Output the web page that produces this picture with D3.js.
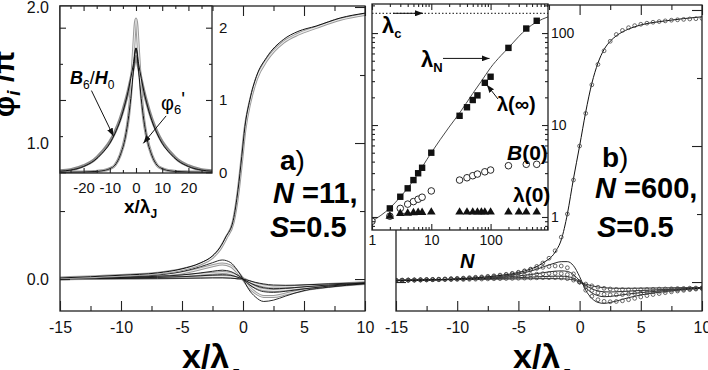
<!DOCTYPE html>
<meta charset="utf-8">
<style>
  body { margin: 0; background: #fff; }
  svg { display: block; font-family: "Liberation Sans", Arial, sans-serif; }
  .axis path { display: none; }
  .axis line { stroke: #222; stroke-width: 1.1; }
  .axis text { fill: #111; font-family: "Liberation Sans", Arial, sans-serif; }
</style>
<svg width="708" height="370"></svg>
<script src="https://cdn.jsdelivr.net/npm/d3@7"></script>
<script>
// ---- panel a : N = 11 ----
const xMainA   = [-15,-10,-7,-5,-3.5,-2.5,-1.9,-1.4,-0.8,-0.4,-0.1,0.16,0.57,1.1,1.94,3.3,4.5,6,8,10];
const phiLineA = [0.008,0.028,0.045,0.075,0.118,0.17,0.23,0.31,0.43,0.66,0.9,1.12,1.32,1.49,1.63,1.76,1.82,1.86,1.92,1.955];
const phiCircA = [0.008,0.026,0.042,0.07,0.11,0.16,0.22,0.3,0.42,0.64,0.88,1.1,1.3,1.47,1.61,1.74,1.8,1.85,1.91,1.945];

const xSmallA = [-15,-10,-7,-5,-3.5,-2.5,-1.7,-1,-0.5,0,0.5,1,1.7,2.5,3.5,5,7,10];
const smallLinesA = [
  [0.003,0.015,0.03,0.055,0.09,0.12,0.14,0.12,0.07,0,-0.08,-0.13,-0.165,-0.155,-0.125,-0.085,-0.06,-0.035],
  [0.003,0.012,0.02,0.03,0.045,0.057,0.065,0.055,0.032,0,-0.04,-0.07,-0.093,-0.098,-0.09,-0.072,-0.052,-0.032],
  [0.002,0.008,0.012,0.017,0.024,0.029,0.032,0.027,0.015,0,-0.025,-0.046,-0.064,-0.071,-0.068,-0.057,-0.044,-0.029],
  [0.001,0.004,0.005,0.006,0.007,0.008,0.008,0.006,0.003,0,-0.012,-0.024,-0.036,-0.044,-0.046,-0.043,-0.036,-0.027]
];
const smallCircA = [
  [0.003,0.013,0.025,0.045,0.075,0.098,0.11,0.095,0.055,0,-0.06,-0.1,-0.128,-0.128,-0.11,-0.08,-0.055,-0.033],
  [0.002,0.01,0.016,0.024,0.035,0.043,0.048,0.04,0.023,0,-0.032,-0.058,-0.078,-0.084,-0.078,-0.064,-0.048,-0.03],
  [0.002,0.006,0.008,0.011,0.015,0.018,0.019,0.016,0.008,0,-0.018,-0.035,-0.05,-0.058,-0.057,-0.05,-0.04,-0.028]
];

// inset a : B6/H0 and phi6'
const xInsetA   = [-29,-25,-20,-16,-13,-10,-8,-6,-4,-3,-2,-1,0,1,2,3,4,6,8,10,13,16,20,25,29];
const bLineA    = [0.015,0.03,0.08,0.16,0.26,0.4,0.54,0.72,0.97,1.12,1.3,1.5,1.72,1.5,1.3,1.12,0.97,0.72,0.54,0.4,0.26,0.16,0.08,0.03,0.015];
const bSimA     = [0.02,0.035,0.09,0.17,0.28,0.42,0.56,0.74,0.98,1.12,1.28,1.45,1.6,1.45,1.28,1.12,0.98,0.74,0.56,0.42,0.28,0.17,0.09,0.035,0.02];
const dphiCircA = [0,0.002,0.005,0.01,0.02,0.05,0.1,0.24,0.5,0.72,1.08,1.65,2.12,1.65,1.08,0.72,0.5,0.24,0.1,0.05,0.02,0.01,0.005,0.002,0];
const dphiLineA = [0,0.002,0.005,0.01,0.02,0.05,0.1,0.24,0.5,0.72,1.02,1.4,1.72,1.4,1.02,0.72,0.5,0.24,0.1,0.05,0.02,0.01,0.005,0.002,0];

// ---- panel b : N = 600 ----
const xLinesB = [-15,-10,-7,-5,-4,-3,-2,-1.5,-1,-0.5,0,0.5,1,1.5,2,2.5,3,4,5,7,10];
const phiLineB = [0.01,0.024,0.043,0.07,0.095,0.14,0.22,0.31,0.5,0.76,1.0,1.25,1.46,1.61,1.71,1.77,1.81,1.86,1.89,1.92,1.95];
const smallLinesB = [
  [0.01,0.02,0.035,0.06,0.08,0.11,0.14,0.15,0.15,0.12,0.04,-0.06,-0.12,-0.15,-0.157,-0.15,-0.14,-0.115,-0.095,-0.07,-0.045],
  [0.012,0.02,0.03,0.045,0.055,0.068,0.08,0.082,0.078,0.055,0.01,-0.04,-0.08,-0.1,-0.108,-0.106,-0.1,-0.088,-0.078,-0.062,-0.045],
  [0.013,0.02,0.026,0.032,0.036,0.04,0.043,0.043,0.04,0.028,0.005,-0.025,-0.05,-0.065,-0.072,-0.073,-0.072,-0.067,-0.062,-0.055,-0.043],
  [0.014,0.018,0.021,0.023,0.024,0.025,0.025,0.024,0.022,0.015,0.0,-0.015,-0.028,-0.036,-0.042,-0.045,-0.046,-0.046,-0.045,-0.043,-0.04]
];
// circle series, x = -15 ... 10 step 0.5
const xCircB = d3.range(-15, 10.001, 0.5);
const phiCircB = [
  0.01,0.011,0.012,0.013,0.014,0.015,0.017,0.018,0.02,0.022,0.024,
  0.026,0.028,0.031,0.034,0.038,0.042,0.047,0.053,0.06,0.068,
  0.08,0.095,0.115,0.14,0.175,0.23,0.33,0.5,0.75,1.0,
  1.24,1.45,1.6,1.7,1.77,1.82,1.85,1.87,1.885,1.895,
  1.903,1.91,1.915,1.92,1.925,1.928,1.931,1.934,1.936,1.938
];
const smallCircB = [
  [0.012,0.013,0.014,0.015,0.016,0.018,0.019,0.021,0.023,0.025,0.027,
   0.029,0.032,0.035,0.038,0.042,0.046,0.051,0.057,0.064,0.072,
   0.082,0.092,0.1,0.108,0.114,0.118,0.118,0.105,0.06,0.0,
   -0.06,-0.105,-0.13,-0.142,-0.145,-0.143,-0.138,-0.13,-0.12,-0.11,
   -0.1,-0.092,-0.085,-0.078,-0.072,-0.066,-0.061,-0.056,-0.052,-0.048],
  [0.013,0.014,0.015,0.016,0.017,0.018,0.019,0.02,0.021,0.022,0.023,
   0.024,0.026,0.028,0.03,0.032,0.034,0.037,0.04,0.043,0.046,
   0.05,0.054,0.058,0.061,0.063,0.064,0.062,0.055,0.032,0.0,
   -0.035,-0.062,-0.08,-0.09,-0.094,-0.094,-0.092,-0.088,-0.084,-0.08,
   -0.076,-0.072,-0.068,-0.064,-0.06,-0.057,-0.054,-0.051,-0.048,-0.045],
  [0.014,0.014,0.015,0.015,0.016,0.016,0.017,0.017,0.018,0.018,0.019,
   0.019,0.02,0.021,0.022,0.023,0.024,0.025,0.026,0.027,0.028,
   0.029,0.03,0.031,0.032,0.032,0.032,0.03,0.025,0.014,0.0,
   -0.015,-0.028,-0.038,-0.046,-0.051,-0.054,-0.056,-0.057,-0.057,-0.056,
   -0.055,-0.054,-0.052,-0.051,-0.05,-0.048,-0.047,-0.045,-0.044,-0.043]
];

// inset b : lengths vs N (log-log)
const nSquares = [2,3,4,5,6,7,10,30,40,50,60,80,100,200,400,600];
const lamInf   = [1.24,1.66,2.05,2.52,2.99,3.43,5.0,12.6,15.6,18.7,21.0,28.8,33.5,69,112,136];
const nCircles = [1,2,3,4,5,6,7,10,30,40,50,60,80,100,200,400,600];
const bZero    = [0.9,1.02,1.24,1.38,1.47,1.56,1.64,1.92,2.52,2.67,2.81,2.93,3.1,3.24,3.61,3.74,3.74];
const nTri     = [2,3,4,5,6,7,10,30,40,50,60,70,80,100,200,300,400,600];
const lamZero  = [1.02,1.09,1.1,1.11,1.12,1.12,1.13,1.13,1.13,1.13,1.13,1.13,1.13,1.13,1.13,1.13,1.13,1.13];
const nCurve   = [1,2,3,5,10,20,30,50,70,100,150,200,300,400,600,930];
const lamN     = [0.9,1.25,1.65,2.5,5.0,9.5,13.5,22,30,42,57,69,92,110,132,150];
const lamC = 164;

const svg = d3.select("svg");
const defs = svg.append("defs");
defs.append("marker").attr("id", "arr")
  .attr("viewBox", "0 0 8 6").attr("refX", 8).attr("refY", 3)
  .attr("markerWidth", 8).attr("markerHeight", 6)
  .attr("markerUnits", "userSpaceOnUse").attr("orient", "auto")
  .append("path").attr("d", "M0,0L8,3L0,6Z").attr("fill", "#111");

function addAxis(g, gen, scale, vals, size, tr, fmt, pad, fs) {
  const a = gen(scale).tickValues(vals).tickSize(size).tickPadding(pad || 3)
    .tickFormat(fmt || (() => ""));
  const s = g.append("g").attr("class", "axis").attr("transform", tr).call(a);
  s.selectAll("text").style("font-size", (fs || 16) + "px");
  return s;
}
function frame(g, x0, y0, x1, y1, fill) {
  g.append("rect").attr("x", x0).attr("y", y0).attr("width", x1 - x0).attr("height", y1 - y0)
    .attr("fill", fill || "none").attr("stroke", "#222").attr("stroke-width", 1.3);
}
function clip(id, x0, y0, x1, y1) {
  defs.append("clipPath").attr("id", id).append("rect")
    .attr("x", x0).attr("y", y0).attr("width", x1 - x0).attr("height", y1 - y0);
  return "url(#" + id + ")";
}
// dense chain of small open circles, drawn as a hollow grey tube
function tube(g, d) {
  g.append("path").attr("d", d).attr("fill", "none").attr("stroke", "#9a9a9a").attr("stroke-width", 3);
  g.append("path").attr("d", d).attr("fill", "none").attr("stroke", "#ececec").attr("stroke-width", 1.1);
}
function thin(g, d, w) {
  g.append("path").attr("d", d).attr("fill", "none").attr("stroke", "#111").attr("stroke-width", w || 1);
}
const pairs = (xs, ys) => xs.map((x, i) => [x, ys[i]]);
const str = d => String(d);

// ================= panel a =================
const xA = d3.scaleLinear([-15, 10], [60, 365]);
const yA = d3.scaleLinear([-0.235, 2.0], [311, 7]);
const lineA = d3.line().x(d => xA(d[0])).y(d => yA(d[1])).curve(d3.curveMonotoneX);
const gA = svg.append("g");
const plotA = gA.append("g").attr("clip-path", clip("cA", 60, 6, 365, 311));
smallCircA.forEach(s => tube(plotA, lineA(pairs(xSmallA, s))));
smallLinesA.forEach(s => thin(plotA, lineA(pairs(xSmallA, s)), 0.9));
tube(plotA, lineA(pairs(xMainA, phiCircA)));
thin(plotA, lineA(pairs(xMainA, phiLineA)), 1);

const majX = [-15, -10, -5, 0, 5, 10], minX = [-12.5, -7.5, -2.5, 2.5, 7.5];
addAxis(gA, d3.axisBottom, xA, majX, -10, "translate(0,311)", str, 11, 16);
addAxis(gA, d3.axisBottom, xA, minX, -5, "translate(0,311)");
addAxis(gA, d3.axisTop, xA, majX, -10, "translate(0,6)");
addAxis(gA, d3.axisTop, xA, minX, -5, "translate(0,6)");
addAxis(gA, d3.axisLeft, yA, [0, 1, 2], -10, "translate(60,0)", d3.format(".1f"), 11, 16);
addAxis(gA, d3.axisLeft, yA, [0.5, 1.5], -5, "translate(60,0)");
addAxis(gA, d3.axisRight, yA, [0, 1, 2], -10, "translate(365,0)");
addAxis(gA, d3.axisRight, yA, [0.5, 1.5], -5, "translate(365,0)");
frame(gA, 60, 6, 365, 311);

// inset a
const xIa = d3.scaleLinear([-29, 29], [60, 212]);
const yIa = d3.scaleLinear([-0.01, 2.3], [173, 6]);
const lineIa = d3.line().x(d => xIa(d[0])).y(d => yIa(d[1])).curve(d3.curveMonotoneX);
const gIa = svg.append("g");
gIa.append("rect").attr("x", 60).attr("y", 6).attr("width", 152).attr("height", 167).attr("fill", "#fff");
const plotIa = gIa.append("g").attr("clip-path", clip("cIa", 60, 6, 212, 173));
plotIa.append("path").attr("d", lineIa(pairs(xInsetA, bSimA))).attr("fill", "none")
  .attr("stroke", "#8a8a8a").attr("stroke-width", 3.2);
tube(plotIa, lineIa(pairs(xInsetA, dphiCircA)));
thin(plotIa, lineIa(pairs(xInsetA, bLineA)), 1);
thin(plotIa, lineIa(pairs(xInsetA, dphiLineA)), 1);
const majIx = [-20, -10, 0, 10, 20], minIx = [-25, -15, -5, 5, 15, 25];
addAxis(gIa, d3.axisBottom, xIa, majIx, -5, "translate(0,173)", str, 9, 15);
addAxis(gIa, d3.axisBottom, xIa, minIx, -3, "translate(0,173)");
addAxis(gIa, d3.axisTop, xIa, majIx, -5, "translate(0,6)");
addAxis(gIa, d3.axisTop, xIa, minIx, -3, "translate(0,6)");
addAxis(gIa, d3.axisRight, yIa, [0, 1, 2], -6, "translate(212,0)", str, 7, 15);
addAxis(gIa, d3.axisRight, yIa, [0.5, 1.5], -3, "translate(212,0)");
addAxis(gIa, d3.axisLeft, yIa, [0, 1, 2], -6, "translate(60,0)");
addAxis(gIa, d3.axisLeft, yIa, [0.5, 1.5], -3, "translate(60,0)");
frame(gIa, 60, 6, 212, 173);

const tIa = gIa.append("text").attr("x", 124).attr("y", 213).attr("font-size", 19).attr("font-weight", "bold");
tIa.append("tspan").text("x/λ");
tIa.append("tspan").attr("font-size", 12).attr("dy", 5).text("J");

const tB6 = gIa.append("text").attr("x", 70).attr("y", 84).attr("font-size", 18).attr("font-weight", "bold");
tB6.append("tspan").attr("font-style", "italic").text("B");
tB6.append("tspan").attr("font-size", 12).attr("font-weight", "normal").attr("dy", 5).text("6");
tB6.append("tspan").attr("font-weight", "normal").attr("dy", -5).text("/");
tB6.append("tspan").attr("font-style", "italic").text("H");
tB6.append("tspan").attr("font-size", 12).attr("font-weight", "normal").attr("dy", 5).text("0");
gIa.append("line").attr("x1", xIa(-17)).attr("y1", yIa(1.13)).attr("x2", xIa(-8.6)).attr("y2", yIa(0.5))
  .attr("stroke", "#111").attr("marker-end", "url(#arr)");

const tP6 = gIa.append("text").attr("x", 161).attr("y", 110).attr("font-size", 20);
tP6.append("tspan").text("φ");
tP6.append("tspan").attr("font-size", 13).attr("dy", 4).text("6");
tP6.append("tspan").attr("dy", -8).text("'");
gIa.append("line").attr("x1", xIa(11.5)).attr("y1", yIa(0.78)).attr("x2", xIa(2.8)).attr("y2", yIa(0.4))
  .attr("stroke", "#111").attr("marker-end", "url(#arr)");

// panel a labels
const la = gA.append("text").attr("x", 280).attr("y", 170).attr("font-size", 28);
la.append("tspan").attr("font-weight", "bold").text("a");
la.append("tspan").text(")");
const na = gA.append("text").attr("x", 273).attr("y", 203).attr("font-size", 29).attr("font-weight", "bold");
na.append("tspan").attr("font-style", "italic").text("N");
na.append("tspan").text(" =11,");
const sa = gA.append("text").attr("x", 270).attr("y", 237).attr("font-size", 29).attr("font-weight", "bold");
sa.append("tspan").attr("font-style", "italic").text("S");
sa.append("tspan").text("=0.5");

// ================= panel b =================
const xB = d3.scaleLinear([-15, 10], [396, 702]);
const yB = d3.scaleLinear([-0.213, 2.0], [311, 10]);
const lineB = d3.line().x(d => xB(d[0])).y(d => yB(d[1])).curve(d3.curveMonotoneX);
const gB = svg.append("g");
const plotB = gB.append("g").attr("clip-path", clip("cB", 396, 5, 702, 311));
function circles(g, xs, ys) {
  g.append("g").selectAll("circle").data(pairs(xs, ys)).join("circle")
    .attr("cx", d => xB(d[0])).attr("cy", d => yB(d[1])).attr("r", 1.9)
    .attr("fill", "none").attr("stroke", "#444").attr("stroke-width", 0.8);
}
smallLinesB.forEach(s => thin(plotB, lineB(pairs(xLinesB, s)), 0.9));
smallCircB.forEach(s => circles(plotB, xCircB, s));
thin(plotB, lineB(pairs(xLinesB, phiLineB)), 1);
circles(plotB, xCircB, phiCircB);

addAxis(gB, d3.axisBottom, xB, majX, -10, "translate(0,311)", str, 11, 16);
addAxis(gB, d3.axisBottom, xB, minX, -5, "translate(0,311)");
addAxis(gB, d3.axisTop, xB, majX, -10, "translate(0,5)");
addAxis(gB, d3.axisTop, xB, minX, -5, "translate(0,5)");
addAxis(gB, d3.axisLeft, yB, [0, 1, 2], -10, "translate(396,0)");
addAxis(gB, d3.axisLeft, yB, [0.5, 1.5], -5, "translate(396,0)");
addAxis(gB, d3.axisRight, yB, [0, 1, 2], -10, "translate(702,0)");
addAxis(gB, d3.axisRight, yB, [0.5, 1.5], -5, "translate(702,0)");
frame(gB, 396, 5, 702, 311);

const lb = gB.append("text").attr("x", 602).attr("y", 167).attr("font-size", 28);
lb.append("tspan").attr("font-weight", "bold").text("b");
lb.append("tspan").text(")");
const nb = gB.append("text").attr("x", 595).attr("y", 198).attr("font-size", 29).attr("font-weight", "bold");
nb.append("tspan").attr("font-style", "italic").text("N");
nb.append("tspan").text(" =600,");
const sb = gB.append("text").attr("x", 597).attr("y", 237).attr("font-size", 29).attr("font-weight", "bold");
sb.append("tspan").attr("font-style", "italic").text("S");
sb.append("tspan").text("=0.5");

// inset b (log-log)
const xL = d3.scaleLog([1, 930], [372, 548]);
const yL = d3.scaleLog([0.722, 207], [230, 4]);
const gIb = svg.append("g");
gIb.append("rect").attr("x", 372).attr("y", 4).attr("width", 176).attr("height", 226).attr("fill", "#fff");
const plotIb = gIb.append("g").attr("clip-path", clip("cIb", 372, 4, 548, 230));
plotIb.append("line").attr("x1", xL(1)).attr("x2", xL(930)).attr("y1", yL(lamC)).attr("y2", yL(lamC))
  .attr("stroke", "#111").attr("stroke-dasharray", "1.5,2");
plotIb.append("path").attr("fill", "none").attr("stroke", "#333").attr("stroke-width", 0.9)
  .attr("d", d3.line().x(d => xL(d[0])).y(d => yL(d[1])).curve(d3.curveMonotoneX)(pairs(nCurve, lamN)));
plotIb.append("path").attr("fill", "none").attr("stroke", "#333").attr("stroke-width", 0.9)
  .attr("d", d3.line().x(d => xL(d[0])).y(d => yL(d[1]))(pairs(nTri.slice(1, 6), lamZero.slice(1, 6))));
plotIb.append("g").selectAll("circle").data(pairs(nCircles, bZero)).join("circle")
  .attr("cx", d => xL(d[0])).attr("cy", d => yL(d[1])).attr("r", 3.3)
  .attr("fill", "#fff").attr("stroke", "#111").attr("stroke-width", 0.9);
const triSym = d3.symbol(d3.symbolTriangle, 32);
plotIb.append("g").selectAll("path").data(pairs(nTri, lamZero)).join("path")
  .attr("transform", d => `translate(${xL(d[0])},${yL(d[1])})`).attr("d", triSym).attr("fill", "#111");
plotIb.append("g").selectAll("rect").data(pairs(nSquares, lamInf)).join("rect")
  .attr("x", d => xL(d[0]) - 3.2).attr("y", d => yL(d[1]) - 3.2).attr("width", 6.4).attr("height", 6.4)
  .attr("fill", "#111");

const majL = [1, 10, 100];
const minL = [2,3,4,5,6,7,8,9,20,30,40,50,60,70,80,90,200,300,400,500,600,700,800,900];
const minLy = [0.8,0.9,2,3,4,5,6,7,8,9,20,30,40,50,60,70,80,90,200];
addAxis(gIb, d3.axisBottom, xL, majL, -6, "translate(0,230)", str, 5, 14);
addAxis(gIb, d3.axisBottom, xL, minL, -3, "translate(0,230)");
addAxis(gIb, d3.axisTop, xL, majL, -6, "translate(0,4)");
addAxis(gIb, d3.axisTop, xL, minL, -3, "translate(0,4)");
addAxis(gIb, d3.axisRight, yL, majL, -6, "translate(548,0)", str, 3, 14);
addAxis(gIb, d3.axisRight, yL, minLy, -3, "translate(548,0)");
addAxis(gIb, d3.axisLeft, yL, majL, -6, "translate(372,0)");
addAxis(gIb, d3.axisLeft, yL, minLy, -3, "translate(372,0)");
frame(gIb, 372, 4, 548, 230);

gIb.append("text").attr("x", 460).attr("y", 268).attr("font-size", 20).attr("font-weight", "bold")
  .attr("font-style", "italic").text("N");

const tLc = gIb.append("text").attr("x", 382).attr("y", 33).attr("font-size", 22).attr("font-weight", "bold");
tLc.append("tspan").text("λ");
tLc.append("tspan").attr("font-size", 13).attr("dy", 5).text("c");
gIb.append("line").attr("x1", 393).attr("y1", yL(lamC)).attr("x2", 423).attr("y2", yL(lamC))
  .attr("stroke", "#111").attr("marker-end", "url(#arr)");

const tLn = gIb.append("text").attr("x", 421).attr("y", 67).attr("font-size", 22).attr("font-weight", "bold");
tLn.append("tspan").text("λ");
tLn.append("tspan").attr("font-size", 13).attr("dy", 5).text("N");
gIb.append("line").attr("x1", 443).attr("y1", yL(53)).attr("x2", xL(96)).attr("y2", yL(53))
  .attr("stroke", "#111").attr("marker-end", "url(#arr)");

gIb.append("text").attr("x", 497).attr("y", 111).attr("font-size", 20).attr("font-weight", "bold").text("λ(∞)");
gIb.append("line").attr("x1", 498).attr("y1", 99).attr("x2", xL(80) + 2).attr("y2", yL(lamInf[11]) + 2)
  .attr("stroke", "#111").attr("marker-end", "url(#arr)");

const tB0 = gIb.append("text").attr("x", 507).attr("y", 160).attr("font-size", 21).attr("font-weight", "bold");
tB0.append("tspan").attr("font-style", "italic").text("B");
tB0.append("tspan").text("(0)");
gIb.append("text").attr("x", 513).attr("y", 202).attr("font-size", 21).attr("font-weight", "bold").text("λ(0)");

// ---- axis titles ----
const yt = svg.append("text").attr("transform", "translate(14,84) rotate(-90)")
  .attr("text-anchor", "middle").attr("font-size", 30).attr("font-weight", "bold");
yt.append("tspan").text("φ");
yt.append("tspan").attr("font-size", 19).attr("font-style", "italic").attr("dy", 6).text("i");
yt.append("tspan").attr("dy", -6).text(" /π");

[182, 513].forEach(x0 => {
  const t = svg.append("text").attr("x", x0).attr("y", 368).attr("font-size", 34).attr("font-weight", "bold");
  t.append("tspan").text("x/λ");
  t.append("tspan").attr("font-size", 20).attr("dy", 15).text("J");
});
</script>
